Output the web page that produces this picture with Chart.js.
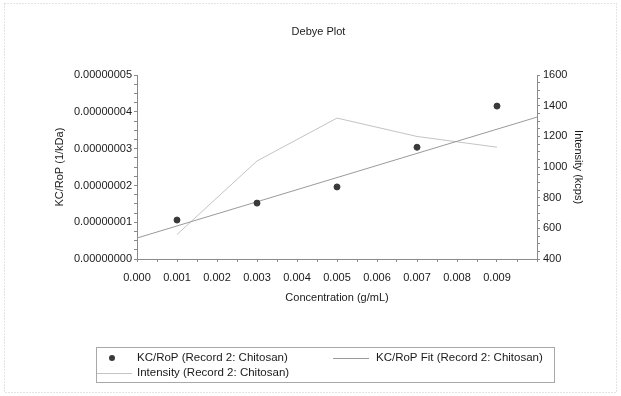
<!DOCTYPE html>
<html lang="en">
  <head>
    <meta charset="UTF-8" />
    <title>Debye Plot</title>
    <script src="https://cdn.jsdelivr.net/npm/chart.js"></script>
    <style>
      html, body { margin: 0; padding: 0; background: #ffffff; }
      #wrap { width: 621px; height: 396px; }
    </style>
  </head>
  <body>
    <div id="wrap"><canvas id="debyeChart" width="621" height="396"></canvas></div>
    <script>
      // concentration (g/mL) of each measured sample
      const concentration = [0.001, 0.003, 0.005, 0.007, 0.009];
      // KC/RoP (1/kDa)
      const kcRop = [1.06e-8, 1.52e-8, 1.96e-8, 3.04e-8, 4.16e-8];
      // intensity (kcps)
      const intensity = [560, 1040, 1320, 1200, 1130];
      // linear fit of KC/RoP, end points
      const fitX = [0, 0.01];
      const fitY = [0.57e-8, 3.86e-8];

      const labelKc = "KC/RoP (Record 2: Chitosan)";
      const labelFit = "KC/RoP Fit (Record 2: Chitosan)";
      const labelInt = "Intensity (Record 2: Chitosan)";

      const FONT = "'Liberation Sans', Arial, sans-serif";
      const TXT = "#1a1a1a";
      const AXIS = "#8a8a8a";

      const pairs = (xs, ys) => xs.map((x, i) => ({ x: x, y: ys[i] }));

      // background + faint frame like the scanned page
      const framePlugin = {
        id: "frame",
        beforeDraw(chart) {
          const c = chart.ctx;
          c.save();
          c.fillStyle = "#ffffff";
          c.fillRect(0, 0, chart.width, chart.height);
          c.strokeStyle = "#c8c8c8";
          c.setLineDash([1, 2]);
          c.strokeRect(4.5, 3.5, 612, 389);
          c.restore();
        },
      };

      // legend box drawn below the x axis, two rows
      const legendPlugin = {
        id: "boxLegend",
        afterDraw(chart) {
          const c = chart.ctx;
          const ds = chart.data.datasets;
          c.save();
          c.strokeStyle = "#a8a8a8";
          c.lineWidth = 1;
          c.strokeRect(96.5, 347.5, 458, 35);
          c.font = "11.5px " + FONT;
          c.fillStyle = TXT;
          c.textBaseline = "middle";
          const r1 = 358, r2 = 373;
          // scatter marker
          c.beginPath();
          c.arc(112, r1, 3, 0, Math.PI * 2);
          c.fillStyle = ds[0].backgroundColor;
          c.fill();
          c.fillStyle = TXT;
          c.fillText(ds[0].label, 137, r1);
          // fit line
          c.strokeStyle = ds[1].borderColor;
          c.beginPath();
          c.moveTo(333, r1 + 0.5);
          c.lineTo(369, r1 + 0.5);
          c.stroke();
          c.fillText(ds[1].label, 376, r1);
          // intensity line
          c.strokeStyle = ds[2].borderColor;
          c.beginPath();
          c.moveTo(97, r2 + 0.5);
          c.lineTo(132, r2 + 0.5);
          c.stroke();
          c.fillText(ds[2].label, 137, r2);
          c.restore();
        },
      };

      const tickGrid = {
        drawOnChartArea: false,
        drawTicks: true,
        tickLength: 3,
        color: AXIS,
      };

      new Chart(document.getElementById("debyeChart").getContext("2d"), {
        type: "scatter",
        data: {
          datasets: [
            {
              label: labelKc,
              data: pairs(concentration, kcRop),
              yAxisID: "y",
              backgroundColor: "#3a3a3a",
              borderColor: "#3a3a3a",
              pointRadius: 3,
              showLine: false,
              order: 0,
            },
            {
              label: labelFit,
              data: pairs(fitX, fitY),
              yAxisID: "y",
              borderColor: "#9a9a9a",
              backgroundColor: "#9a9a9a",
              borderWidth: 1,
              pointRadius: 0,
              showLine: true,
              order: 1,
            },
            {
              label: labelInt,
              data: pairs(concentration, intensity),
              yAxisID: "y2",
              borderColor: "#c4c4c4",
              backgroundColor: "#c4c4c4",
              borderWidth: 1,
              pointRadius: 0,
              showLine: true,
              order: 2,
            },
          ],
        },
        options: {
          responsive: false,
          animation: false,
          layout: { padding: { top: 18, left: 46, right: 30, bottom: 86 } },
          plugins: {
            legend: { display: false },
            tooltip: { enabled: false },
            title: {
              display: true,
              text: "Debye Plot",
              color: TXT,
              font: { family: FONT, size: 11, weight: "normal" },
              padding: { top: 7, bottom: 37 },
            },
          },
          scales: {
            x: {
              type: "linear",
              min: 0,
              max: 0.01,
              afterFit: (s) => { s.height = 51; },
              grid: tickGrid,
              border: { display: true, color: AXIS },
              ticks: {
                stepSize: 0.0005,
                autoSkip: false,
                maxRotation: 0,
                padding: 9,
                color: TXT,
                font: { family: FONT, size: 11 },
                callback: (v) => {
                  const n = Math.round(v / 0.0005);
                  return n % 2 === 0 && n < 20 ? ((n / 2) * 0.001).toFixed(3) : "";
                },
              },
              title: {
                display: true,
                text: "Concentration (g/mL)",
                color: TXT,
                font: { family: FONT, size: 11 },
                padding: { top: 0, bottom: 5 },
              },
            },
            y: {
              position: "left",
              min: 0,
              max: 5e-8,
              afterFit: (s) => { s.width = 91; },
              grid: tickGrid,
              border: { display: true, color: AXIS },
              ticks: {
                stepSize: 0.25e-8,
                autoSkip: false,
                padding: 2,
                color: TXT,
                font: { family: FONT, size: 11 },
                callback: (v) => {
                  const n = Math.round(v / 0.25e-8);
                  return n % 4 === 0 ? ((n / 4) * 1e-8).toFixed(8) : "";
                },
              },
              title: {
                display: true,
                text: "KC/RoP (1/kDa)",
                color: TXT,
                font: { family: FONT, size: 11 },
                padding: { top: 7, bottom: 0 },
              },
            },
            y2: {
              position: "right",
              min: 400,
              max: 1600,
              afterFit: (s) => { s.width = 54; },
              grid: tickGrid,
              border: { display: true, color: AXIS },
              ticks: {
                stepSize: 50,
                autoSkip: false,
                padding: 3,
                color: TXT,
                font: { family: FONT, size: 11 },
                callback: (v) => (Math.round(v) % 200 === 0 ? String(Math.round(v)) : ""),
              },
              title: {
                display: true,
                text: "Intensity (kcps)",
                color: TXT,
                font: { family: FONT, size: 11 },
                padding: { top: 6, bottom: 0 },
              },
            },
          },
        },
        plugins: [framePlugin, legendPlugin],
      });
    </script>
  </body>
</html>
